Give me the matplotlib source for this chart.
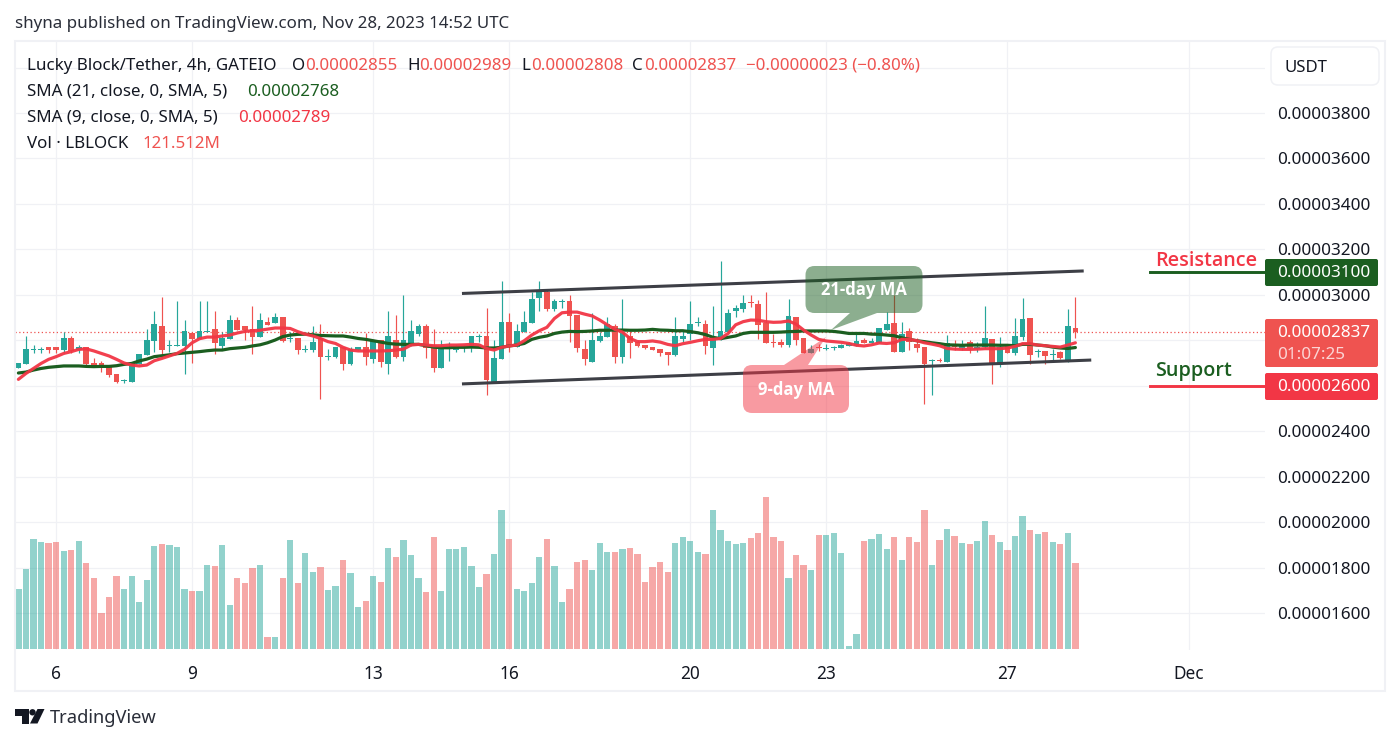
import matplotlib
matplotlib.use("Agg")
import matplotlib.pyplot as plt
from matplotlib.patches import PathPatch, FancyBboxPatch, Polygon, Circle
from matplotlib.path import Path

# Prices are stored in units of 1e-8 USDT; volume in millions of LBLOCK.
opens = [2679,2697,2759,2759,2769,2769,2757,2810,2757,2769,2700,2700,2682,2651,2619,2618,2697,2735,2798,2863,
         2776,2776,2776,2832,2805,2836,2850,2775,2805,2889,2863,2850,2816,2880,2876,2902,2807,2810,2757,2757,
         2810,2728,2728,2770,2695,2757,2770,2717,2801,2695,2801,2726,2775,2827,2863,2770,2678,2767,2757,2766,
         2775,2816,2819,2616,2717,2880,2770,2836,2876,2986,3012,2937,2970,2973,2911,2761,2704,2797,2814,2863,
         2726,2819,2792,2779,2770,2761,2748,2735,2805,2827,2876,2871,2766,2805,2836,2929,2937,2968,2959,2876,
         2792,2792,2779,2902,2810,2744,2769,2761,2766,2766,2776,2776,2801,2788,2788,2845,2876,2748,2841,2783,
         2770,2711,2711,2704,2783,2764,2792,2761,2770,2805,2695,2779,2744,2814,2898,2750,2753,2735,2748,2709,2855]
highs = [2700,2819,2778,2769,2769,2769,2835,2819,2778,2769,2722,2709,2682,2651,2631,2700,2740,2850,2929,2990,
         2801,2973,2889,2832,2973,2973,2929,2835,2911,2902,2863,2951,2920,2902,2920,2902,2835,2810,2779,2863,
         2871,2762,2770,2770,2770,2770,2830,2801,2801,2929,2911,2999,2889,2871,2871,2849,2801,2792,2779,2779,
         2819,2827,2942,2801,3061,2920,2871,2929,3012,3061,3021,2981,2981,2999,2911,2801,2920,2836,2902,2871,
         2981,2841,2801,2779,2770,2761,2748,2902,2845,2973,2902,2889,2951,3149,2937,2955,2999,2999,2977,3012,
         2827,2805,2981,2902,2810,2779,2783,2783,2775,2783,2792,2836,2810,2810,2854,2924,2999,2880,2854,2810,
         2770,2717,2722,2823,2801,2801,2801,2792,2951,2805,2814,2779,2898,2986,2898,2761,2753,2761,2753,2937,2989]
lows = [2679,2697,2743,2743,2743,2743,2743,2743,2743,2691,2688,2662,2640,2613,2613,2618,2697,2735,2750,2723,
        2750,2776,2653,2701,2805,2835,2741,2762,2805,2845,2803,2741,2816,2867,2876,2794,2794,2741,2747,2750,
        2543,2713,2723,2670,2691,2757,2691,2700,2682,2651,2722,2709,2775,2819,2722,2660,2678,2709,2748,2748,
        2748,2792,2559,2616,2717,2748,2770,2836,2876,2929,2929,2929,2942,2792,2748,2691,2704,2792,2814,2700,
        2700,2722,2770,2761,2757,2731,2691,2731,2792,2801,2863,2739,2691,2801,2836,2902,2924,2948,2805,2788,
        2770,2770,2770,2779,2744,2744,2753,2757,2757,2766,2775,2775,2788,2788,2788,2845,2748,2748,2757,2748,
        2519,2559,2704,2704,2757,2757,2744,2748,2766,2607,2682,2744,2735,2801,2695,2726,2695,2709,2717,2704,2808]
closes = [2700,2762,2762,2762,2757,2757,2810,2753,2769,2697,2688,2679,2647,2616,2624,2700,2740,2801,2871,2759,
          2781,2779,2841,2805,2841,2841,2788,2810,2889,2845,2845,2816,2889,2867,2902,2798,2810,2757,2760,2792,
          2728,2731,2770,2697,2762,2770,2728,2801,2704,2819,2726,2801,2841,2863,2766,2678,2761,2770,2772,2769,
          2819,2819,2625,2722,2880,2775,2841,2880,2981,3021,2937,2973,2973,2907,2766,2717,2801,2819,2871,2726,
          2832,2788,2775,2766,2757,2744,2735,2819,2819,2871,2880,2775,2805,2841,2920,2942,2964,2965,2867,2788,
          2789,2779,2907,2801,2744,2761,2766,2764,2769,2779,2786,2797,2788,2797,2854,2871,2748,2827,2792,2766,
          2695,2714,2709,2788,2770,2775,2766,2770,2810,2700,2770,2744,2819,2893,2735,2753,2731,2738,2722,2863,2837]
volume = [84.8,113,155.4,151.2,149.8,151.2,138.5,139.9,152.6,121.5,100.3,50.9,73.5,103.1,84.8,103.1,66.4,97.5,145.5,148.4,
          147,144.1,84.8,82,82,118.7,117.3,147,62.2,100.3,93.3,114.5,118.7,17,17,100.3,154,93.3,135.6,108.8,
          115.9,83.4,89,125.8,107.4,59.3,67.8,103.1,94.7,142.7,130,154,132.8,100.3,80.5,158.3,82,141.3,141.3,144.1,
          117.3,87.6,106,134.2,196.4,155.4,84.8,82,93.3,130,155.4,117.3,66.4,84.8,122.9,125.8,111.6,149.8,137.1,137.1,
          141.3,142.7,134.2,94.7,115.9,122.9,108.8,149.8,158.3,152.6,137.1,134.2,196.4,168.1,152.6,148.4,149.8,156.8,163.9,214.8,
          158.3,152.6,100.3,132.8,118.7,111.6,161.1,161.1,163.9,135.6,4.2,21.2,152.6,155.4,162.5,141.3,158.3,125.8,158.3,151.2,
          196.4,118.7,154,169.6,159.7,149.8,148.4,152.6,180.9,161.1,151.2,139.9,159.7,187.9,168.1,162.5,165.3,151.2,148.4,163.9,121.512]
sma_21 = [2656,2660,2669,2676,2681,2684,2687,2687,2687,2685,2684,2685,2685,2688,2694,2698,2709,2717,2728,2732,
          2736,2741,2744,2747,2750,2754,2757,2757,2763,2766,2769,2775,2780,2789,2801,2816,2823,2826,2827,2824,
          2821,2820,2819,2819,2814,2808,2804,2798,2792,2786,2783,2782,2782,2782,2776,2770,2767,2767,2769,2769,
          2770,2769,2766,2766,2769,2775,2779,2786,2804,2813,2819,2830,2836,2839,2838,2839,2841,2844,2844,2845,
          2845,2844,2844,2845,2848,2845,2844,2842,2842,2838,2833,2825,2813,2807,2813,2819,2830,2835,2835,2835,
          2835,2836,2838,2839,2841,2841,2841,2841,2839,2835,2830,2830,2830,2827,2826,2823,2820,2811,2804,2798,
          2794,2789,2785,2780,2779,2778,2779,2779,2779,2779,2778,2778,2776,2782,2782,2779,2776,2770,2766,2764,2768]
sma_9 = [2628,2654,2676,2698,2716,2728,2742,2750,2760,2762,2753,2742,2731,2716,2700,2691,2687,2691,2710,2720,
         2731,2742,2760,2789,2807,2814,2814,2819,2823,2832,2839,2842,2844,2849,2854,2854,2852,2838,2827,2819,
         2808,2794,2786,2769,2757,2753,2753,2753,2753,2754,2757,2761,2779,2782,2779,2776,2776,2779,2779,2780,
         2782,2780,2764,2757,2769,2775,2779,2798,2823,2842,2857,2896,2921,2924,2924,2915,2907,2889,2868,2848,
         2836,2808,2794,2794,2797,2792,2782,2776,2785,2791,2798,2804,2804,2808,2830,2868,2882,2889,2888,2882,
         2879,2880,2885,2871,2845,2823,2804,2797,2794,2791,2786,2778,2775,2780,2788,2786,2789,2804,2804,2798,
         2789,2783,2776,2764,2761,2760,2760,2761,2763,2763,2763,2766,2773,2785,2785,2779,2776,2773,2770,2779,2789]

day_labels = ["6", "9", "13", "16", "20", "23", "27", "Dec"]
day_bars = [5, 23, 47, 65, 89, 107, 131, 155]
price_ticks = [1600, 1800, 2000, 2200, 2400, 2600, 2800, 3000, 3200, 3400, 3600, 3800, 4000]
unlabelled_ticks = [2600, 2800, 4000]  # covered by the badges and the currency button

resistance = 3100
support = 2600
channel_upper = ([58.75, 141.1], [3006, 3105])
channel_lower = ([58.75, 142.1], [2608, 2713])
level_start_bar = 149.9

UP, DOWN = "#26a69a", "#ef5350"
GREEN, RED = "#1b5e20", "#f23645"
INK, GRID = "#131722", "#f0f1f5"
FONT = "Noto Sans"
HEAVY_FONT = "Open Sans"
TEXT_SIZE = 12.2
SCALE_SIZE = 12.3

plt.rcParams["font.family"] = FONT
fig = plt.figure(figsize=(14, 7.44), dpi=100, facecolor="white")

# Price pane, laid out in pixels of the 1400x744 canvas.
PANE_L, PANE_R, PANE_T, PANE_B = 15, 1265, 41, 650
ax = fig.add_axes([PANE_L / 1400, 1 - PANE_B / 744, (PANE_R - PANE_L) / 1400, (PANE_B - PANE_T) / 744])
BAR0, BAR_STEP = 18.4, 7.55
ax.set_xlim((PANE_L - BAR0) / BAR_STEP, (PANE_R - BAR0) / BAR_STEP)
ax.set_ylim(3800 - (PANE_B - 113) * 4.4, 3800 + (113 - PANE_T) * 4.4)

# Volume shares the pane and sits above the grid, which shows through its translucent bars.
vol_ax = ax.twinx()
vol_ax.set_ylim(-1.4, 858.6)
vol_ax.axis("off")
vol_ax.patch.set_visible(False)

bars = list(range(len(closes)))
colors = [UP if c >= o else DOWN for o, c in zip(opens, closes)]

vol_ax.bar(bars, volume, width=0.83, color=colors, alpha=0.5, linewidth=0, zorder=3)
for side in ax.spines.values():
    side.set_visible(False)

ax.set_yticks(price_ticks)
ax.set_yticklabels(["" if t in unlabelled_ticks else f"{t * 1e-8:.8f}" for t in price_ticks],
                   fontsize=SCALE_SIZE, color=INK)
ax.yaxis.tick_right()
ax.tick_params(axis="y", length=0, pad=9)
ax.set_xticks(day_bars)
ax.set_xticklabels(day_labels, fontsize=12.4, color=INK)
ax.get_xticklabels()[-1].set_fontweight("semibold")
ax.tick_params(axis="x", length=0, pad=10.5)
ax.grid(True, color=GRID, linewidth=0.9)
ax.set_axisbelow(True)

# Candles: wick, then body with a one-pixel minimum height.
ax.vlines(bars, lows, highs, colors=colors, linewidth=0.85, zorder=3)
ax.bar(bars, [max(abs(c - o), 4.4) for o, c in zip(opens, closes)],
       bottom=[min(o, c) for o, c in zip(opens, closes)], width=0.76, color=colors, linewidth=0, zorder=4)

ax.plot(bars, sma_21, color=GREEN, linewidth=2.3, zorder=5, solid_capstyle="round")
ax.plot(bars, sma_9, color=RED, linewidth=2.3, zorder=6, solid_capstyle="round", alpha=0.95)

ax.axhline(closes[-1], color=DOWN, linewidth=0.9, linestyle=(0, (1, 2)), zorder=2)

for xs, ys in (channel_upper, channel_lower):
    ax.plot(xs, ys, color="#3d3f46", linewidth=2.2, zorder=7, solid_capstyle="butt")

ax.plot([level_start_bar, ax.get_xlim()[1]], [resistance, resistance], color=GREEN, linewidth=2.1, zorder=7)
ax.plot([level_start_bar, ax.get_xlim()[1]], [support, support], color=RED, linewidth=2.1, zorder=7)

# Overlay in canvas pixels for the chart furniture.
top = fig.add_axes([0, 0, 1, 1], zorder=20)
top.set_xlim(0, 1400)
top.set_ylim(744, 0)
top.axis("off")


def label(x, y, s, size=TEXT_SIZE, color=INK, **kw):
    kw.setdefault("va", "center")
    kw.setdefault("ha", "left")
    top.text(x, y + 1.8, s, fontsize=size, color=color, **kw)


def rounded_box(x0, y0, x1, y1, r, fc, ec="none", lw=0, alpha=None):
    top.add_patch(FancyBboxPatch((x0 + r, y0 + r), x1 - x0 - 2 * r, y1 - y0 - 2 * r,
                                 boxstyle=f"round,pad={r},rounding_size={r}",
                                 fc=fc, ec=ec, lw=lw, alpha=alpha))


def callout(x0, y0, x1, y1, r, color, top_tail=(), bottom_tail=()):
    m, c, l = Path.MOVETO, Path.CURVE3, Path.LINETO
    verts = [(x0 + r, y0)]
    codes = [m]
    for p in top_tail:
        verts.append(p); codes.append(l)
    verts += [(x1 - r, y0), (x1, y0), (x1, y0 + r), (x1, y1 - r), (x1, y1), (x1 - r, y1)]
    codes += [l, c, c, l, c, c]
    for p in bottom_tail:
        verts.append(p); codes.append(l)
    verts += [(x0 + r, y1), (x0, y1), (x0, y1 - r), (x0, y0 + r), (x0, y0), (x0 + r, y0)]
    codes += [l, c, c, l, c, c]
    top.add_patch(PathPatch(Path(verts, codes), fc=color, ec="none", alpha=0.5))


# Outer frame of the chart card.
top.add_patch(plt.Rectangle((15, 41), 1370, 650, fill=False, ec=GRID, lw=1.5))

# Header and legend rows.
label(15, 22, "shyna published on TradingView.com, Nov 28, 2023 14:52 UTC", color="#2a2e39")
label(27, 64, "Lucky Block/Tether, 4h, GATEIO")
for x, s in ((292, "O"), (407, "H"), (521, "L"), (632, "C")):
    label(x, 64, s)
for x, s in ((305, "0.00002855"), (419, "0.00002989"), (531, "0.00002808"), (644, "0.00002837"),
             (746, "\u22120.00000023 (\u22120.80%)")):
    label(x, 64, s, color=DOWN)
label(27, 90, "SMA (21, close, 0, SMA, 5)")
label(247, 90, "0.00002768", color=GREEN)
label(27, 116, "SMA (9, close, 0, SMA, 5)")
label(238, 116, "0.00002789", color=RED)
label(27, 142, "Vol \u00b7 LBLOCK")
label(142, 142, "121.512M", color=DOWN)

# Currency button above the price scale.
rounded_box(1271, 47, 1379, 85, 7, "white", ec=GRID, lw=1.1)
label(1285, 66, "USDT", size=12.1)

# Moving-average callouts.
callout(805.5, 266, 922.5, 313, 9, GREEN, bottom_tail=[(877, 313), (831, 330), (850, 313)])
label(864, 288, "21-day MA", size=12, color="white", ha="center", family=HEAVY_FONT, fontweight="bold")
callout(743, 365, 849, 413, 9, RED, top_tail=[(784, 365), (826, 337), (808, 365)])
label(796, 388, "9-day MA", size=12, color="white", ha="center", family=HEAVY_FONT, fontweight="bold")

# Support and resistance captions.
label(1155, 259, "Resistance", size=14.2, color=RED, family=HEAVY_FONT, fontweight="semibold")
label(1155, 369, "Support", size=14.2, color=GREEN, family=HEAVY_FONT, fontweight="semibold")

# Price-scale badges.
rounded_box(1265, 259, 1378, 286, 2, GREEN)
label(1277, 271, f"{resistance * 1e-8:.8f}", size=SCALE_SIZE, color="white")
rounded_box(1265, 319, 1378, 367, 2, DOWN)
label(1277, 331, f"{closes[-1] * 1e-8:.8f}", size=SCALE_SIZE, color="white")
label(1277, 353, "01:07:25", size=SCALE_SIZE, color="#fbd4d4")
rounded_box(1265, 373, 1378, 400, 2, RED)
label(1277, 385, f"{support * 1e-8:.8f}", size=SCALE_SIZE, color="white")

# Footer wordmark.
logo = "#131722"
top.add_patch(Polygon([(15, 709), (28.5, 709), (28.5, 723.5), (22, 723.5), (22, 715.5), (15, 715.5)], fc=logo, ec="none"))
top.add_patch(Circle((32.5, 712.3), 3.2, fc=logo, ec="none"))
top.add_patch(Polygon([(37.5, 709), (44.5, 709), (37.5, 723.5), (30, 723.5)], fc=logo, ec="none"))
label(50, 716.5, "TradingView", size=13.2, color="#2a2e39")

fig.savefig("out.png", dpi=100, facecolor="white")
